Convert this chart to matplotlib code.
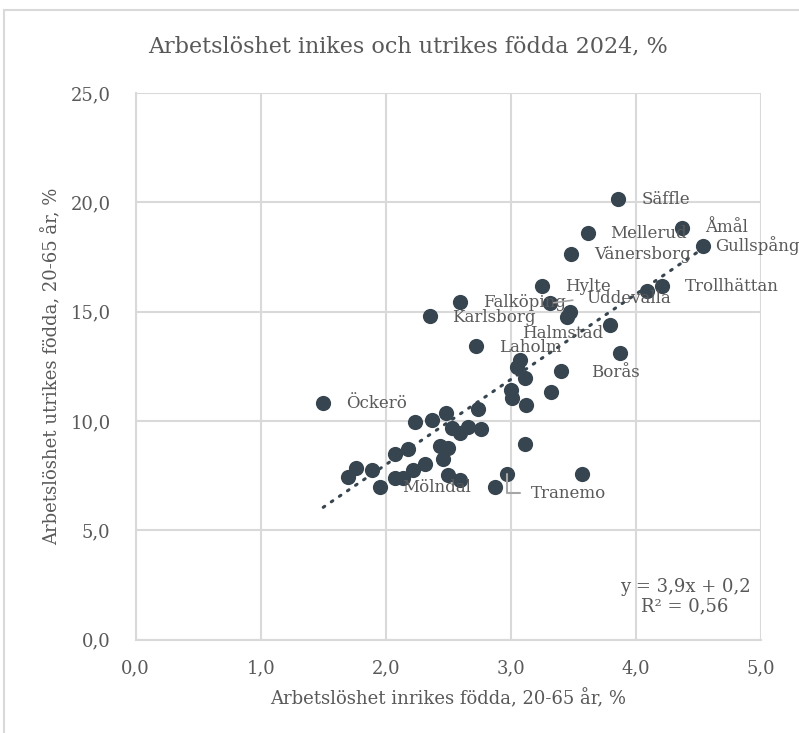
import matplotlib
matplotlib.use("Agg")
import matplotlib.pyplot as plt
from matplotlib.patches import Rectangle
import numpy as np

# unemployment, domestic born (x) vs foreign born (y), 2024, %
inrikes = [1.50, 3.86, 3.62, 4.37, 4.54, 3.48, 4.21, 4.09, 3.25, 2.59,
           3.31, 3.47, 3.45, 2.35, 3.79, 2.72, 3.07, 3.05, 3.11, 3.40,
           3.87, 3.00, 3.01, 3.12, 3.32, 2.74, 2.48, 2.37, 2.23, 2.53,
           2.59, 2.66, 2.76, 2.43, 2.50, 2.46, 3.11, 2.18, 2.07, 2.31,
           2.22, 2.50, 2.59, 2.07, 2.14, 1.95, 1.76, 1.70, 1.89, 2.87,
           2.97, 3.57]
utrikes = [10.82, 20.14, 18.59, 18.84, 18.01, 17.63, 16.19, 15.96, 16.18, 15.43,
           15.38, 15.00, 14.77, 14.80, 14.39, 13.41, 12.80, 12.48, 11.95, 12.30,
           13.10, 11.42, 11.04, 10.75, 11.34, 10.53, 10.35, 10.05, 9.97, 9.68,
           9.44, 9.74, 9.62, 8.86, 8.75, 8.24, 8.94, 8.71, 8.48, 8.01,
           7.77, 7.54, 7.28, 7.41, 7.39, 6.99, 7.84, 7.45, 7.77, 6.96,
           7.56, 7.57]

# labelled municipalities: index into the arrays above
label_names = ["Öckerö", "Säffle", "Mellerud", "Åmål", "Gullspång", "Vänersborg",
               "Trollhättan", "Hylte", "Falköping", "Uddevalla", "Karlsborg",
               "Halmstad", "Laholm", "Borås", "Mölndal", "Tranemo"]
label_index = [0, 1, 2, 3, 4, 5, 6, 8, 9, 10, 13, 14, 15, 20, 42, 50]

# linear trend shown in the chart
trend_slope = 3.9
trend_intercept = 0.2
trend_r2 = 0.56

title = "Arbetslöshet inikes och utrikes födda 2024, %"
xlabel = "Arbetslöshet inrikes födda, 20-65 år, %"
ylabel = "Arbetslöshet utrikes födda, 20-65 år, %"

dark = "#36454f"
textc = "#595959"
gridc = "#d9d9d9"
font = "DejaVu Serif"

plt.rcParams['font.family'] = [font]

fig = plt.figure(figsize=(7.99, 7.33), dpi=100)
ax = fig.add_axes([135.6 / 799, 1 - 639.6 / 733, (761 - 135.6) / 799, (639.6 - 93) / 733])

# outer chart border
fig.patches.append(Rectangle((4 / 799, -0.1), 1.2, 1 - 10 / 733 + 0.1, transform=fig.transFigure,
                             fill=False, edgecolor=gridc, linewidth=1.5))

ax.set_xlim(0, 5)
ax.set_ylim(0, 25)
ax.set_xticks(np.arange(0, 5.01, 1))
ax.set_yticks(np.arange(0, 25.01, 5))
ax.set_xticklabels(["{:.1f}".format(v).replace(".", ",") for v in ax.get_xticks()])
ax.set_yticklabels(["{:.1f}".format(v).replace(".", ",") for v in ax.get_yticks()])
ax.tick_params(length=0, labelsize=13, labelcolor=textc)
ax.tick_params(axis="x", pad=14)
ax.tick_params(axis="y", pad=18)
ax.grid(True, color=gridc, linewidth=1.5)
ax.set_axisbelow(True)
for s in ["top", "right"]:
    ax.spines[s].set_visible(False)
for s in ["left", "bottom"]:
    ax.spines[s].set_color(gridc)
    ax.spines[s].set_linewidth(1.5)

# trend line over the x range of the data
tx = np.array([min(inrikes), max(inrikes)])
ax.plot(tx, trend_slope * tx + trend_intercept, color=dark, linewidth=2.2,
        linestyle=(0, (0.6, 2.6)), dash_capstyle="round", zorder=2)

ax.scatter(inrikes, utrikes, s=120, color=dark, zorder=3, linewidths=0)

# label offsets in pixels (dx, dy), placed as in the reference
offsets = {
    "Öckerö": (23, 0), "Säffle": (23, 0), "Mellerud": (22, 0), "Åmål": (23, 0),
    "Gullspång": (12, 0), "Vänersborg": (23, 0), "Trollhättan": (23, -1),
    "Hylte": (23, -1), "Falköping": (23, 0), "Uddevalla": (37, 5),
    "Karlsborg": (23, -1), "Halmstad": (-88, -9), "Laholm": (23, -1),
    "Borås": (-29, -19), "Mölndal": (-57, -7), "Tranemo": (24, -19),
}
for name, i in zip(label_names, label_index):
    dx, dy = offsets[name]
    arrow = None
    if name == "Uddevalla":
        arrow = dict(arrowstyle="-", color="#a6a6a6", linewidth=1.2, relpos=(0, 0.5),
                     shrinkA=8, shrinkB=3)
    if name == "Tranemo":
        arrow = dict(arrowstyle="-", color="#a6a6a6", linewidth=1.5, relpos=(0, 0.5),
                     shrinkA=6, shrinkB=0, connectionstyle="angle,angleA=0,angleB=90,rad=0")
    ax.annotate(name, (inrikes[i], utrikes[i]), xytext=(dx, dy), textcoords="offset pixels",
                ha="left", va="center", fontsize=12, color=textc, zorder=4,
                arrowprops=arrow)

ax.text(685 / 799, 1 - 597 / 733, "y = {}x + {}\nR² = {}".format(
            str(trend_slope).replace(".", ","), str(trend_intercept).replace(".", ","),
            str(trend_r2).replace(".", ",")),
        transform=fig.transFigure, ha="center", va="center", multialignment="center",
        fontsize=13, color=textc, linespacing=1.1)

fig.text(408 / 799, 1 - 46 / 733, title, ha="center", va="center", fontsize=16, color=textc)
fig.text(448 / 799, 1 - 699 / 733, xlabel, ha="center", va="center", fontsize=13, color=textc)
fig.text(52 / 799, 1 - 366 / 733, ylabel, ha="center", va="center", rotation=90,
         fontsize=13, color=textc)

fig.savefig("out.png", dpi=100)
